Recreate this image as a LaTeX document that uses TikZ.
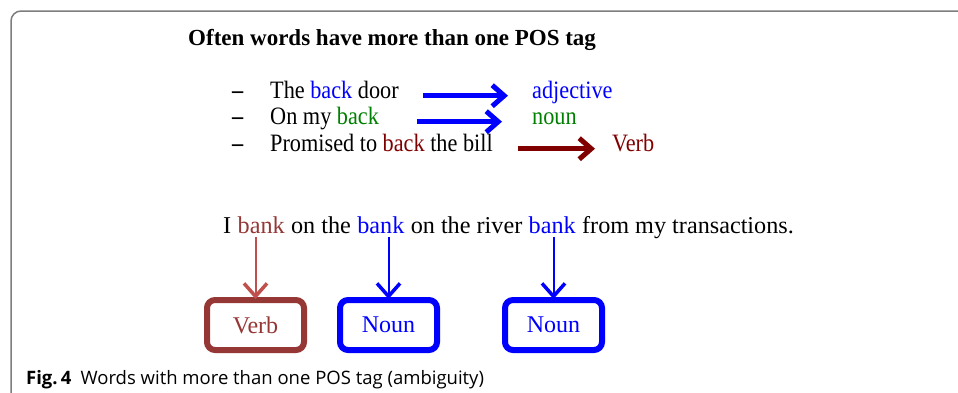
\documentclass[tikz,border=0pt]{standalone}
\usepackage{fontspec}
\setmainfont{Liberation Serif}
\newfontfamily\slidefont[FakeStretch=0.89]{Liberation Serif}
\newfontfamily\capfont{Open Sans}
\usetikzlibrary{arrows.meta, positioning}

\definecolor{tagblue}{RGB}{0,0,255}
\definecolor{taggreen}{RGB}{0,128,0}
\definecolor{tagmaroon}{RGB}{128,0,0}
\definecolor{verbred}{RGB}{149,55,53}
\definecolor{arrowred}{RGB}{192,80,77}
\definecolor{framegray}{RGB}{125,125,125}

\begin{document}
\begin{tikzpicture}[x = 1pt, y = -1pt]
  \tikzstyle{every node} = [inner sep = 0pt];
  \tikzstyle{row} = [anchor = base west, font = \slidefont\fontsize{25}{30}\selectfont];
  \tikzstyle{word} = [font = \fontsize{24.2}{29}\selectfont];
  \tikzstyle{fat arrow} = [line width = 5pt, -{Straight Barb[length = 12pt, width = 21pt]}];
  \tikzstyle{thin arrow} = [line width = 2pt, -{Straight Barb[length = 13pt, width = 23pt, line width = 3.5pt]}];
  \tikzstyle{tag box} = [draw, line width = 6pt, rounded corners = 8pt,
    minimum width = 97pt, minimum height = 50pt, font = \fontsize{24}{29}\selectfont];

  \useasboundingbox (0,0) rectangle (958,392);
  \draw[framegray, line width = 1.5pt, rounded corners = 10pt] (11,420) -- (11,11) -- (990,11);

  % heading
  \node (head) [anchor = base west, font = \fontsize{23}{28}\selectfont\bfseries] at (188,45)
    {Often words have more than one POS tag};

  % the three examples
  \node (d1) [row] at (232,98) {\textbf{–}};
  \node (d2) [row] at (232,124) {\textbf{–}};
  \node (d3) [row] at (232,151) {\textbf{–}};
  \node (r1) [row] at (270,98) {The \textcolor{tagblue}{back} door};
  \node (r2) [row] at (270,124) {On my \textcolor{taggreen}{back}};
  \node (r3) [row] at (270,151) {Promised to \textcolor{tagmaroon}{back} the bill};
  \node (t1) [row, text = tagblue] at (532,98) {adjective};
  \node (t2) [row, text = taggreen] at (532,124) {noun};
  \node (t3) [row, text = tagmaroon] at (612,151) {Verb};

  \draw[fat arrow, tagblue, shorten < = 24pt, shorten > = 24pt] (r1.mid east) -- (t1.mid west);
  \draw[fat arrow, tagblue, shorten < = 38pt, shorten > = 30pt] (r2.mid east) -- (t2.mid west);
  \draw[fat arrow, tagmaroon, shorten < = 25pt, shorten > = 17pt] (r3.mid east) -- (t3.mid west);

  % the sentence
  \node (s0) [word, anchor = base west] at (223,233) {I};
  \node (b1) [word, base right = 6pt of s0, text = verbred] {bank};
  \node (s1) [word, base right = 6pt of b1] {on the};
  \node (b2) [word, base right = 6pt of s1, text = tagblue] {bank};
  \node (s2) [word, base right = 6pt of b2] {on the river};
  \node (b3) [word, base right = 6pt of s2, text = tagblue] {bank};
  \node (s3) [word, base right = 6pt of b3] {from my transactions.};

  % tags of the sentence
  \node (v1) [tag box, draw = verbred, text = verbred] at (255.5,325) {Verb};
  \node (v2) [tag box, draw = tagblue, text = tagblue] at (388.5,325) {Noun};
  \node (v3) [tag box, draw = tagblue, text = tagblue] at (553.5,325) {Noun};

  \draw[thin arrow, arrowred, shorten < = 4pt, shorten > = -2pt] (v1.north |- b1.south) -- (v1.north);
  \draw[thin arrow, tagblue, shorten < = 4pt, shorten > = -2pt] (v2.north |- b2.south) -- (v2.north);
  \draw[thin arrow, tagblue, shorten < = 4pt, shorten > = -2pt] (v3.north |- b3.south) -- (v3.north);

  % caption
  \node (cap) [anchor = base west, font = \capfont\fontsize{18.5}{22}\selectfont] at (26,384)
    {\textbf{Fig.\,4}\enspace Words with more than one POS tag (ambiguity)};
\end{tikzpicture}
\end{document}
